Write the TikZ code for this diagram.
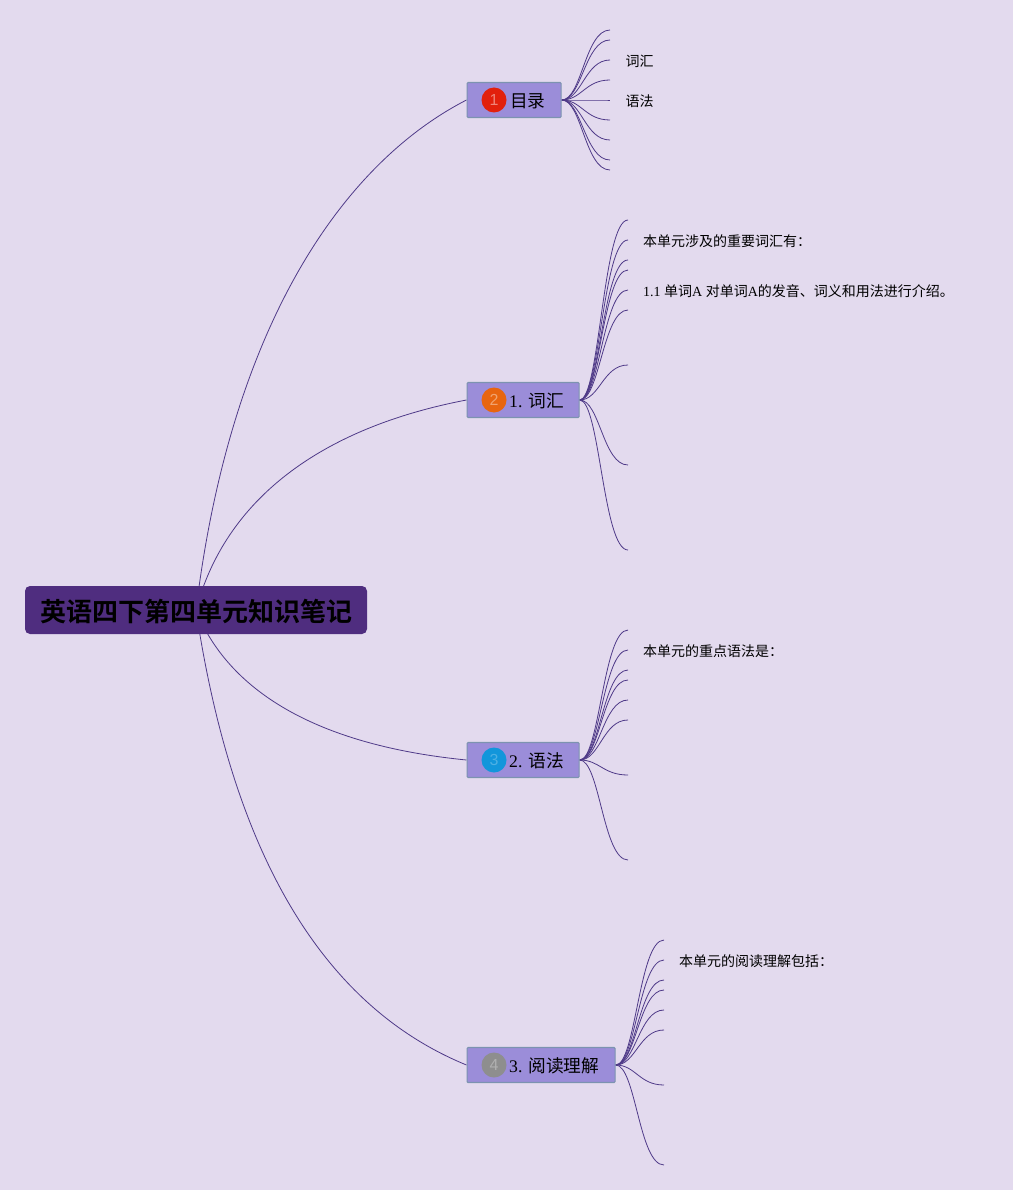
\documentclass[tikz,border=0pt]{standalone}
\usepackage{fontspec}
\setmainfont{Liberation Serif}
\newfontfamily\cjk{Noto Sans CJK SC}
\newfontfamily\cjkbold{Noto Sans CJK SC Bold}
\newfontfamily\badgefont{Liberation Sans}
\usepackage{xcolor}
\definecolor{paper}{HTML}{E3DAEE}
\definecolor{rootfill}{HTML}{4F2D7F}
\definecolor{secfill}{HTML}{9B8DD9}
\definecolor{secline}{HTML}{7C93B0}
\definecolor{twigline}{HTML}{4F3A88}
\definecolor{badgered}{HTML}{E2200C}
\definecolor{badgeorange}{HTML}{E8650F}
\definecolor{badgeblue}{HTML}{1296DB}
\definecolor{badgegrey}{HTML}{8E8E8E}
\usetikzlibrary{backgrounds}
\newcommand{\zh}[1]{{\cjk #1}}
\tikzset{
    rootbox/.style={rectangle,rounded corners=5pt,fill=rootfill,minimum width=342pt,minimum height=48pt,inner sep=0pt},
    rootlabel/.style={inner sep=0pt,font=\cjkbold\fontsize{26}{28}\selectfont},
    secbox/.style={rectangle,draw=secline,line width=1.2pt,fill=secfill,rounded corners=1pt,minimum height=35pt,inner sep=0pt,anchor=west},
    sectext/.style={anchor=west,inner sep=0pt,font=\fontsize{17.7}{20}\selectfont},
    badge/.style={circle,minimum size=25pt,inner sep=0pt,font=\badgefont\fontsize{16}{17}\selectfont},
    leaftext/.style={anchor=west,inner sep=0pt,font=\fontsize{14}{16}\selectfont},
    limb/.style={draw=twigline,line width=0.8pt},
    twig/.style={draw=twigline,line width=0.8pt}
}
\begin{document}
\begin{tikzpicture}[x=1pt,y=-1pt]
    \useasboundingbox (0,0) rectangle (1013,1190);

    \node [rootbox] (root) at (196,610) {};
    \node [rootlabel] (rootname) at (196,612) {英语四下第四单元知识笔记};

    \node [secbox,minimum width=94pt]  (mulu)  at (466.5,100)  {};
    \node [secbox,minimum width=112pt] (cihui) at (466.5,400)  {};
    \node [secbox,minimum width=112pt] (yufa)  at (466.5,760)  {};
    \node [secbox,minimum width=148pt] (yuedu) at (466.5,1065) {};

    \node [badge,fill=badgered,text=badgered!55!white]       (b1) at (494,100)  {1};
    \node [badge,fill=badgeorange,text=badgeorange!60!white] (b2) at (494,400)  {2};
    \node [badge,fill=badgeblue,text=badgeblue!75!white]     (b3) at (494,760)  {3};
    \node [badge,fill=badgegrey,text=badgegrey!70!white]     (b4) at (494,1065) {4};

    \node [sectext] (t1) at (510,101)  {\zh{目录}};
    \node [sectext] (t2) at (509,401)  {1. \zh{词汇}};
    \node [sectext] (t3) at (509,761)  {2. \zh{语法}};
    \node [sectext] (t4) at (509,1066) {3. \zh{阅读理解}};

    \node [leaftext] (l1) at (625.5,61)  {\zh{词汇}};
    \node [leaftext] (l2) at (625.5,101) {\zh{语法}};
    \node [leaftext] (l3) at (643,241) {\zh{本单元涉及的重要词汇有：}};
    \node [leaftext] (l4) at (643,291) {1.1 \zh{单词}A \zh{对单词}A\zh{的发音、词义和用法进行介绍。}};
    \node [leaftext] (l5) at (643,651) {\zh{本单元的重点语法是：}};
    \node [leaftext] (l6) at (679,961) {\zh{本单元的阅读理解包括：}};

    \begin{scope}[on background layer]
        \fill [paper] (0,0) rectangle (1013,1190);
        \draw [limb] (root.center) .. controls (230,330) and (340,165) .. (mulu.west);
        \draw [limb] (root.center) .. controls (225,500) and (320,428) .. (cihui.west);
        \draw [limb] (root.center) .. controls (228,690) and (315,745) .. (yufa.west);
        \draw [limb] (root.center) .. controls (232,850) and (320,1005) .. (yuedu.west);

        \foreach \y in {30,40,60,80,100,120,140,160,170} {
            \coordinate (a\y) at (610,\y);
            \draw [twig] (mulu.east) .. controls +(20,0) and +(-25,0) .. (a\y);
        }
        \foreach \y in {220,240,260,270,290,310,365,465,550} {
            \coordinate (c\y) at (628,\y);
            \draw [twig] (cihui.east) .. controls +(20,0) and +(-25,0) .. (c\y);
        }
        \foreach \y in {630,650,670,680,700,720,775,860} {
            \coordinate (g\y) at (628,\y);
            \draw [twig] (yufa.east) .. controls +(20,0) and +(-25,0) .. (g\y);
        }
        \foreach \y in {940,960,980,990,1010,1030,1085,1165} {
            \coordinate (r\y) at (664,\y);
            \draw [twig] (yuedu.east) .. controls +(20,0) and +(-25,0) .. (r\y);
        }
    \end{scope}
\end{tikzpicture}
\end{document}
